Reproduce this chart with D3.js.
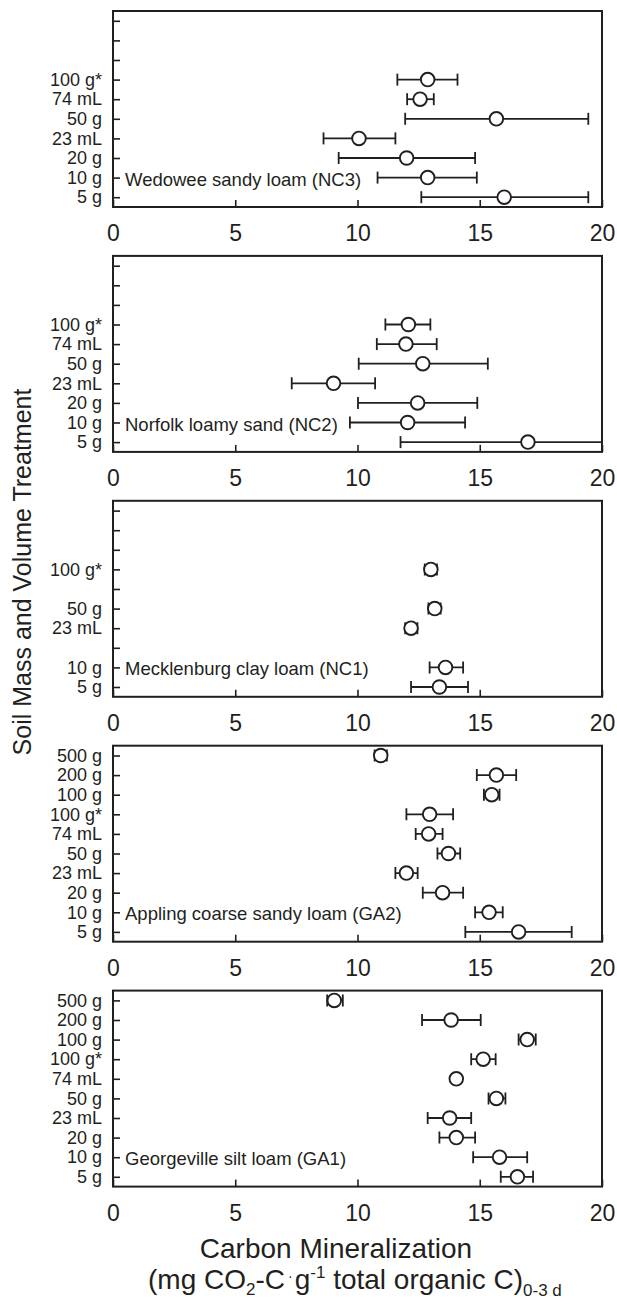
<!DOCTYPE html>
<html>
<head>
<meta charset="utf-8">
<script src="https://cdn.jsdelivr.net/npm/d3@7"></script>
<style>
  body { margin: 0; background: #fff; }
  svg { display: block; font-family: "Liberation Sans", Arial, sans-serif; }
</style>
</head>
<body>
<div id="chart"></div>
<script>
// treatments, top to bottom
var treatments = ["500 g", "200 g", "100 g", "100 g*", "74 mL", "50 g", "23 mL", "20 g", "10 g", "5 g"];
var xTicks = [0, 5, 10, 15, 20];

// one set of arrays per soil (null = not measured)
var nc3Name = "Wedowee sandy loam (NC3)";
var nc3Mean = [null, null, null, 12.87, 12.56, 15.68, 10.06, 12.01, 12.87, 16.0];
var nc3Lo   = [null, null, null, 11.63, 12.03, 11.95, 8.61, 9.23, 10.82, 12.61];
var nc3Hi   = [null, null, null, 14.09, 13.12, 19.44, 11.55, 14.81, 14.88, 19.44];

var nc2Name = "Norfolk loamy sand (NC2)";
var nc2Mean = [null, null, null, 12.08, 11.98, 12.67, 9.02, 12.46, 12.05, 16.97];
var nc2Lo   = [null, null, null, 11.14, 10.79, 10.05, 7.31, 10.02, 9.69, 11.76];
var nc2Hi   = [null, null, null, 12.98, 13.24, 15.33, 10.72, 14.90, 14.40, 21.5];

var nc1Name = "Mecklenburg clay loam (NC1)";
var nc1Mean = [null, null, null, 13.0, null, 13.16, 12.19, null, 13.6, 13.35];
var nc1Lo   = [null, null, null, 12.75, null, 12.9, 11.95, null, 12.95, 12.19];
var nc1Hi   = [null, null, null, 13.25, null, 13.4, 12.45, null, 14.32, 14.52];

var ga2Name = "Appling coarse sandy loam (GA2)";
var ga2Mean = [10.95, 15.68, 15.49, 12.95, 12.91, 13.72, 12.0, 13.48, 15.38, 16.59];
var ga2Lo   = [10.7, 14.88, 15.17, 12.0, 12.38, 13.27, 11.55, 12.67, 14.81, 14.41];
var ga2Hi   = [11.2, 16.49, 15.81, 13.91, 13.48, 14.2, 12.46, 14.32, 15.94, 18.76];

var ga1Name = "Georgeville silt loam (GA1)";
var ga1Mean = [9.05, 13.83, 16.94, 15.14, 14.04, 15.68, 13.77, 14.04, 15.81, 16.54];
var ga1Lo   = [8.76, 12.64, 16.59, 14.65, 14.0, 15.36, 12.87, 13.35, 14.73, 15.86];
var ga1Hi   = [9.40, 15.04, 17.29, 15.65, 14.08, 16.05, 14.65, 14.81, 16.94, 17.18];

var soils = [
  {name: nc3Name, mean: nc3Mean, lo: nc3Lo, hi: nc3Hi},
  {name: nc2Name, mean: nc2Mean, lo: nc2Lo, hi: nc2Hi},
  {name: nc1Name, mean: nc1Mean, lo: nc1Lo, hi: nc1Hi},
  {name: ga2Name, mean: ga2Mean, lo: ga2Lo, hi: ga2Hi},
  {name: ga1Name, mean: ga1Mean, lo: ga1Lo, hi: ga1Hi}
];

var W = 617, H = 1305;
var left = 113, right = 602,
    panelTop = 11, panelH = 196, panelGap = 244.9;
var ink = "#231f20";

var svg = d3.select("#chart").append("svg")
    .attr("width", W)
    .attr("height", H);

var x = d3.scaleLinear().domain([0, 20]).range([left, right]);

soils.forEach(function(s, i) {
  var top = panelTop + i * panelGap;
  var y = d3.scalePoint().domain(treatments).range([top, top + panelH]).padding(0.5);

  var g = svg.append("g").attr("class", "panel");

  var clipId = "clip" + i;
  g.append("clipPath").attr("id", clipId)
    .append("rect")
      .attr("x", left).attr("y", top)
      .attr("width", right - left).attr("height", panelH);

  // y axis: ticks inward, labels only where measured
  var yAxis = d3.axisLeft(y)
      .tickSize(-7)
      .tickPadding(11)
      .tickFormat(function(d) {
        return s.mean[treatments.indexOf(d)] == null ? "" : d;
      });
  var ya = g.append("g")
      .attr("transform", "translate(" + left + ",0)")
      .call(yAxis);
  ya.select(".domain").remove();
  ya.selectAll("line").attr("stroke", ink).attr("stroke-width", 1.6);
  ya.selectAll("text").attr("font-size", 18).attr("fill", ink)
      .attr("font-family", "Liberation Sans, Arial, sans-serif");

  // x axis
  var xAxis = d3.axisBottom(x)
      .tickValues(xTicks)
      .tickSize(-7)
      .tickPadding(18)
      .tickFormat(d3.format("d"));
  var xa = g.append("g")
      .attr("transform", "translate(0," + (top + panelH) + ")")
      .call(xAxis);
  xa.select(".domain").remove();
  xa.selectAll("line").attr("stroke", ink).attr("stroke-width", 1.6);
  xa.selectAll("text").attr("font-size", 23).attr("fill", ink)
      .attr("font-family", "Liberation Sans, Arial, sans-serif");

  // frame
  g.append("rect")
      .attr("x", left).attr("y", top)
      .attr("width", right - left).attr("height", panelH)
      .attr("fill", "none")
      .attr("stroke", ink)
      .attr("stroke-width", 2);

  // soil name
  g.append("text")
      .attr("x", left + 12)
      .attr("y", y("10 g") + 8)
      .attr("font-size", 18.5)
      .attr("fill", ink)
      .text(s.name);

  var rows = treatments.map(function(t, j) {
    return {t: t, m: s.mean[j], lo: s.lo[j], hi: s.hi[j]};
  }).filter(function(d) { return d.m != null; });

  var pts = g.append("g").attr("clip-path", "url(#" + clipId + ")");

  // error bars
  pts.selectAll("line.bar").data(rows).enter().append("line")
      .attr("class", "bar")
      .attr("x1", function(d) { return x(d.lo); })
      .attr("x2", function(d) { return x(d.hi); })
      .attr("y1", function(d) { return y(d.t); })
      .attr("y2", function(d) { return y(d.t); })
      .attr("stroke", ink).attr("stroke-width", 1.8);

  ["lo", "hi"].forEach(function(k) {
    pts.selectAll("line.cap-" + k).data(rows).enter().append("line")
        .attr("class", "cap-" + k)
        .attr("x1", function(d) { return x(d[k]); })
        .attr("x2", function(d) { return x(d[k]); })
        .attr("y1", function(d) { return y(d.t) - 6; })
        .attr("y2", function(d) { return y(d.t) + 6; })
        .attr("stroke", ink).attr("stroke-width", 1.8);
  });

  // means
  pts.selectAll("circle").data(rows).enter().append("circle")
      .attr("cx", function(d) { return x(d.m); })
      .attr("cy", function(d) { return y(d.t); })
      .attr("r", 6.8)
      .attr("fill", "#fff")
      .attr("stroke", ink)
      .attr("stroke-width", 1.9);
});

// y title
svg.append("text")
    .attr("transform", "translate(31,572) rotate(-90)")
    .attr("text-anchor", "middle")
    .attr("font-size", 25)
    .attr("fill", ink)
    .text("Soil Mass and Volume Treatment");

// x title
svg.append("text")
    .attr("x", 336)
    .attr("y", 1258)
    .attr("text-anchor", "middle")
    .attr("font-size", 28)
    .attr("fill", ink)
    .text("Carbon Mineralization");

var t2 = svg.append("text")
    .attr("x", 148)
    .attr("y", 1289)
    .attr("font-size", 28)
    .attr("fill", ink);
t2.append("tspan").text("(mg CO");
t2.append("tspan").attr("font-size", 17).attr("dy", 6).text("2");
t2.append("tspan").attr("dy", -6).text("-C");
t2.append("tspan").attr("font-size", 14).attr("dy", -8).attr("dx", 3).text("\u00b7");
t2.append("tspan").attr("dy", 8).attr("dx", 2).text("g");
t2.append("tspan").attr("font-size", 17).attr("dy", -11).text("-1");
t2.append("tspan").attr("dy", 11).text(" total organic C)");
t2.append("tspan").attr("font-size", 17).attr("dy", 7).text("0-3 d");
</script>
</body>
</html>
